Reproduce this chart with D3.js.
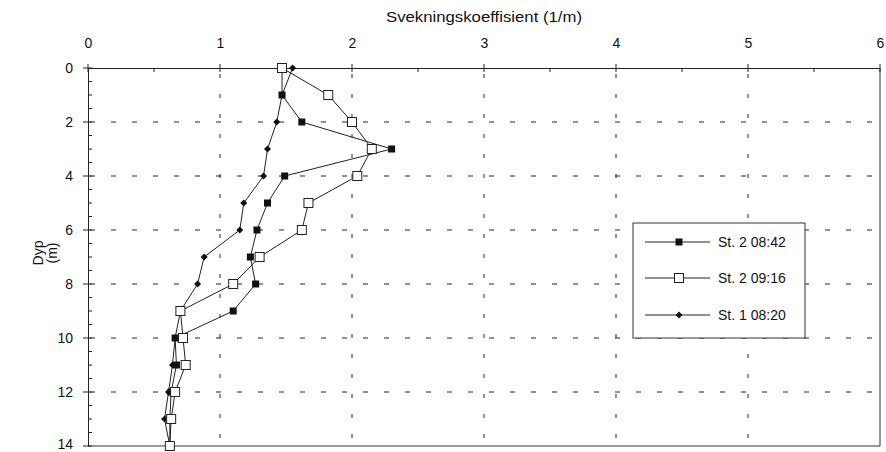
<!DOCTYPE html>
<html><head><meta charset="utf-8">
<script src="https://cdn.jsdelivr.net/npm/d3@7"></script>
<style>body{margin:0;background:#fff}svg{display:block}text{font-family:"Liberation Sans",Arial,sans-serif;fill:#111}</style>
</head><body><svg id="c" width="886" height="452"></svg>
<script>
const depths = [0,1,2,3,4,5,6,7,8,9,10,11,12,13,14];
const st2_0842 = [1.47,1.47,1.62,2.30,1.49,1.36,1.28,1.23,1.27,1.10,0.66,0.67,0.63,0.62,0.62];
const st2_0916 = [1.47,1.82,2.00,2.15,2.04,1.67,1.62,1.30,1.10,0.70,0.72,0.74,0.66,0.63,0.62];
const st1_0820 = [1.55,1.47,1.43,1.36,1.33,1.18,1.15,0.88,0.83,0.70,0.66,0.64,0.61,0.58,0.62];
const seriesNames = ["St. 2 08:42","St. 2 09:16","St. 1 08:20"];
const xTicks = [0,1,2,3,4,5,6];
const yTicks = [0,2,4,6,8,10,12,14];
const xTitle = "Svekningskoeffisient (1/m)";
const yTitle = ["Dyp","(m)"];

const svg = d3.select("#c");
const x = d3.scaleLinear().domain([0,6]).range([88,880]);
const y = d3.scaleLinear().domain([0,14]).range([68,446]);

// gridlines
const g = svg.append("g");
g.selectAll("line.h").data(yTicks.filter(d=>d>0&&d<14)).join("line")
  .attr("x1",x(0)).attr("x2",x(6)).attr("y1",d=>y(d)).attr("y2",d=>y(d))
  .attr("stroke","#222").attr("stroke-width",1).attr("stroke-dasharray","5,16").attr("stroke-dashoffset",-2);
g.selectAll("line.v").data(xTicks.filter(d=>d>0&&d<6)).join("line")
  .attr("x1",d=>x(d)).attr("x2",d=>x(d)).attr("y1",y(0)).attr("y2",y(14))
  .attr("stroke","#222").attr("stroke-width",1).attr("stroke-dasharray","4,16").attr("stroke-dashoffset",-6);

// frame lines
svg.append("line").attr("x1",x(0)).attr("x2",x(6)).attr("y1",y(14)).attr("y2",y(14)).attr("stroke","#333");
svg.append("line").attr("x1",x(6)).attr("x2",x(6)).attr("y1",y(0)).attr("y2",y(14)).attr("stroke","#333");

// top axis
const xAx = svg.append("g").attr("transform",`translate(0,${y(0)})`)
  .call(d3.axisTop(x).tickValues(xTicks).tickSize(0).tickPadding(20).tickFormat(d3.format("d")));
xAx.select(".domain").attr("stroke","#222");
xAx.selectAll("text").style("font-size","14px");
const xMinor = d3.range(0,6.01,0.5);
svg.append("g").selectAll("line").data(xMinor).join("line")
  .attr("x1",d=>x(d)).attr("x2",d=>x(d))
  .attr("y1",d=>Number.isInteger(d)?y(0)-4:y(0)).attr("y2",y(0)+4)
  .attr("stroke","#222");

// left axis
const yAx = svg.append("g").attr("transform",`translate(${x(0)},0)`)
  .call(d3.axisLeft(y).tickValues(yTicks).tickSize(0).tickPadding(15).tickFormat(d3.format("d")));
yAx.select(".domain").attr("stroke","#222");
yAx.selectAll("text").style("font-size","14px").attr("dy",d=>d===14?"0.2em":"0.32em");
const yMinor = d3.range(0,14.01,0.5);
svg.append("g").selectAll("line").data(yMinor).join("line")
  .attr("y1",d=>y(d)).attr("y2",d=>y(d))
  .attr("x1",d=>d%2===0?x(0)-5:x(0)).attr("x2",x(0)+4)
  .attr("stroke","#222");

// titles
svg.append("text").attr("x",484).attr("y",22).attr("text-anchor","middle").style("font-size","14px")
  .attr("textLength",196).attr("lengthAdjust","spacingAndGlyphs").text(xTitle);
svg.append("text").attr("transform","translate(43,253) rotate(-90)").attr("text-anchor","middle").style("font-size","14px").text(yTitle[0]);
svg.append("text").attr("transform","translate(57,253) rotate(-90)").attr("text-anchor","middle").style("font-size","14px").text(yTitle[1]);

const line = d3.line().x(d=>x(d[0])).y(d=>y(d[1]));
const allSeries = [st2_0842, st2_0916, st1_0820];
const types = ["fsq","osq","dia"];

function marker(sel, type){
  if(type==="fsq") sel.append("rect").attr("x",-3.5).attr("y",-3.5).attr("width",7).attr("height",7).attr("fill","#111");
  else if(type==="osq") sel.append("rect").attr("x",-4.5).attr("y",-4.5).attr("width",9).attr("height",9).attr("fill","#fff").attr("stroke","#222").attr("stroke-width",1);
  else sel.append("path").attr("d","M0,-3.5L3.5,0L0,3.5L-3.5,0Z").attr("fill","#111");
}

const order = [2,0,1];
order.forEach(i=>{
  const pts = depths.map((d,k)=>[allSeries[i][k], d]);
  svg.append("path").attr("d",line(pts)).attr("fill","none").attr("stroke","#222").attr("stroke-width",1);
});
order.forEach(i=>{
  const pts = depths.map((d,k)=>[allSeries[i][k], d]);
  svg.append("g").selectAll("g").data(pts).join("g")
    .attr("transform",d=>`translate(${x(d[0])},${y(d[1])})`)
    .each(function(){ marker(d3.select(this), types[i]); });
});

// legend
const lg = svg.append("g");
lg.append("rect").attr("x",633).attr("y",223).attr("width",172).attr("height",115).attr("fill","#fff").attr("stroke","#333").attr("stroke-width",1);
const ly = [242,278,315];
seriesNames.forEach((n,i)=>{
  lg.append("line").attr("x1",645).attr("x2",710).attr("y1",ly[i]).attr("y2",ly[i]).attr("stroke","#222");
  const m = lg.append("g").attr("transform",`translate(679,${ly[i]})`);
  marker(m, types[i]);
  lg.append("text").attr("x",718).attr("y",ly[i]+5).style("font-size","14px").text(n);
});
</script></body></html>
